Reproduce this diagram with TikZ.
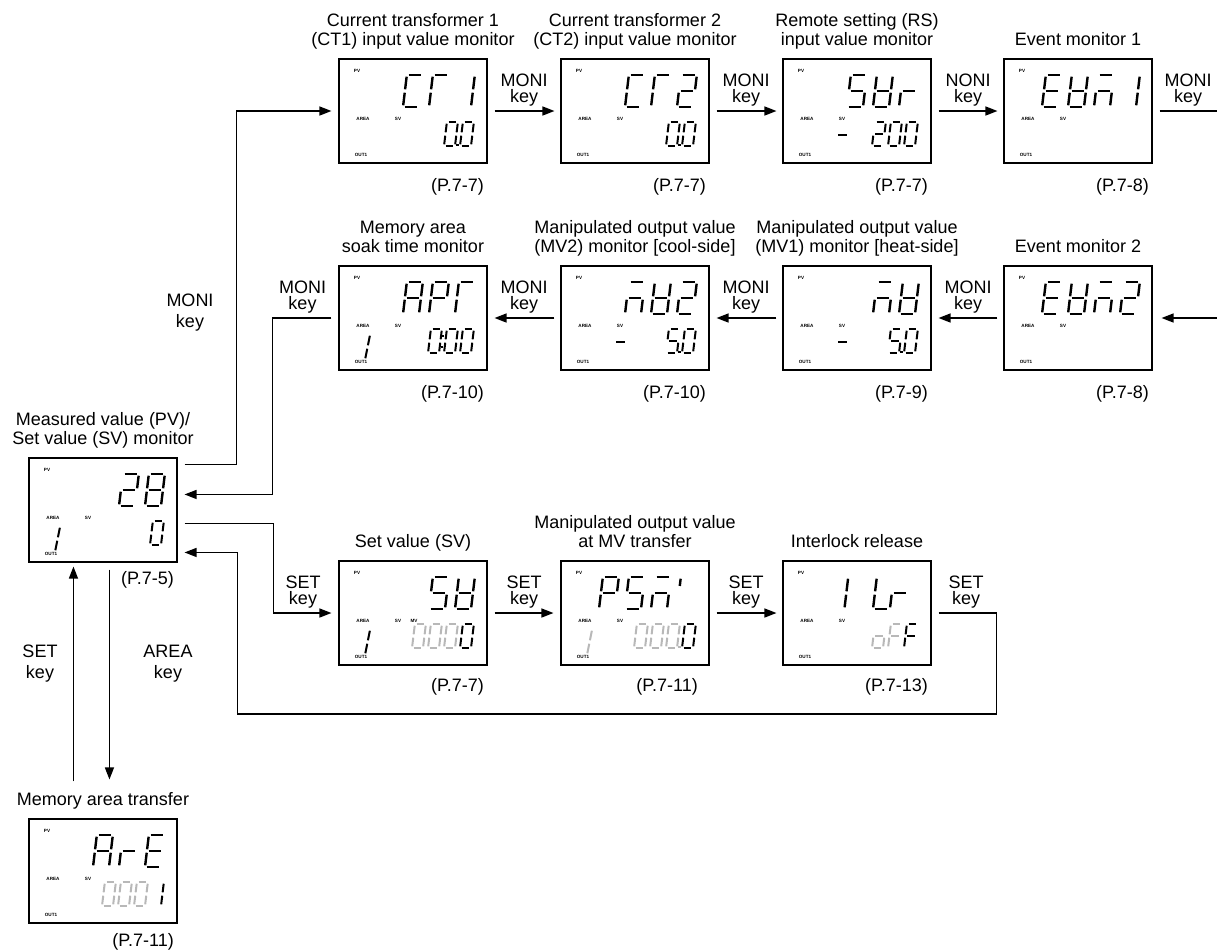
\documentclass[tikz,border=0pt]{standalone}
\usepackage{fontspec}
\setmainfont{Liberation Sans}
\usetikzlibrary{arrows.meta,calc}
\tikzset{
 lcd/.style={draw, line width=1.1pt, minimum width=148pt, minimum height=104pt, inner sep=0pt},
 arr/.style={line width=1.4pt, -{Triangle[length=12pt,width=9pt]}},
 ln/.style={line width=1.4pt},
 lbl/.style={font=\fontsize{18}{20}\selectfont, inner sep=0pt, anchor=base},
 ref/.style={font=\fontsize{18}{20}\selectfont, inner sep=0pt, anchor=base east},
 tinylbl/.style={font=\fontsize{4.6}{5}\selectfont\bfseries, inner sep=0pt},
}
\colorlet{dim}{black!28}
\def\slf{0.12}
% seven-segment drawing
\newcommand\sg[4]{%
 \pgfmathsetmacro\xa{\dgX+(#1)+\dgS*(1-(#2)/\dgH)}%
 \pgfmathsetmacro\ya{\dgY+(#2)}%
 \pgfmathsetmacro\xb{\dgX+(#3)+\dgS*(1-(#4)/\dgH)}%
 \pgfmathsetmacro\yb{\dgY+(#4)}%
 \draw[line width=\dgL pt, draw=\dgC] (\xa,\ya) -- (\xb,\yb);}
\newcommand\sdot[1]{%
 \pgfmathsetmacro\xa{\dgX+\dgW+2.2+\dgS*(1-(#1)/\dgH)}%
 \pgfmathsetmacro\ya{\dgY+(#1)}%
 \fill[\dgC] (\xa-1.2,\ya-1.2) rectangle (\xa+1.2,\ya+1.2);}
\pgfkeys{/seg/.is family,
 /seg/a/.code={\sg{\dgG}{0}{\dgW-\dgG}{0}},
 /seg/b/.code={\sg{\dgW}{\dgG}{\dgW}{\dgH/2-\dgG}},
 /seg/c/.code={\sg{\dgW}{\dgH/2+\dgG}{\dgW}{\dgH-\dgG}},
 /seg/d/.code={\sg{\dgG}{\dgH}{\dgW-\dgG}{\dgH}},
 /seg/e/.code={\sg{0}{\dgH/2+\dgG}{0}{\dgH-\dgG}},
 /seg/f/.code={\sg{0}{\dgG}{0}{\dgH/2-\dgG}},
 /seg/g/.code={\sg{\dgG}{\dgH/2}{\dgW-\dgG}{\dgH/2}},
 /seg/q/.code={\sg{0}{\dgG}{0}{\dgH*0.28}},
 /seg/p/.code={\sdot{\dgH-1.2}},
 /seg/k/.code={\sdot{\dgH*0.3}\sdot{\dgH*0.75}},
}
\newcommand\dg[7]{\def\dgX{#1}\def\dgY{#2}\def\dgW{#3}\def\dgH{#4}\def\dgC{#6}\def\dgL{#7}%
 \pgfmathsetmacro\dgS{\slf*#4}\def\dgG{1.7}\pgfkeys{/seg/.cd,#5}}
% upper digit: cx cy pos segs colour
\newcommand\up[5]{\dg{#1-74+38+26*#3}{#2-52+16}{16}{32}{#4}{#5}{2.4}}
% lower digit
\newcommand\lo[5]{\dg{#1-74+73+16*#3}{#2-52+63}{11}{24}{#4}{#5}{2.0}}
% area digit 1
\newcommand\ar[3]{\def\slf{0.2}\dg{#1-74+16}{#2-52+68}{10}{26}{b,c}{#3}{2.0}\def\slf{0.12}}
% minus sign
\newcommand\mn[2]{\dg{#1-74+52}{#2-52+64}{12}{24}{g}{black}{2.0}}
% lcd box
\newcommand\lcd[3]{%
 \node[lcd] (#1) at (#2,#3) {};
 \node[tinylbl] (#1pv) at ({#2-74+18},{#3-52+12}) {PV};
 \node[tinylbl] (#1area) at ({#2-74+24},{#3-52+60}) {AREA};
 \node[tinylbl] (#1sv) at ({#2-74+59},{#3-52+60}) {SV};
 \node[tinylbl] (#1out) at ({#2-74+22},{#3-52+96}) {OUT1};}
% key label: name x yarrow word
\newcommand\kl[4]{%
 \node[lbl] (#1a) at (#2,{#3-25}) {#4};
 \node[lbl] (#1b) at (#2,{#3-8.5}) {key};}
\begin{document}
\begin{tikzpicture}[x=1pt,y=-1pt]
\useasboundingbox (0,0) rectangle (1217,951);
% ---------- boxes ----------
\lcd{ct1}{413}{111}
\lcd{ct2}{635}{111}
\lcd{rs}{857}{111}
\lcd{evo}{1078}{111}
\lcd{apr}{413}{318}
\lcd{mvb}{635}{318}
\lcd{mva}{857}{318}
\lcd{evt}{1078}{318}
\lcd{pv}{103}{510}
\lcd{sv}{413}{613}
\lcd{psm}{635}{613}
\lcd{ilr}{857}{613}
\lcd{are}{103}{871}
\node[tinylbl] (svmv) at (414,621) {MV};
% ---------- digits ----------
% CT1
\up{413}{111}{1}{a,d,e,f}{black}\up{413}{111}{2}{a,e,f}{black}\up{413}{111}{3}{b,c}{black}
\lo{413}{111}{2}{a,b,c,d,e,f,p}{black}\lo{413}{111}{3}{a,b,c,d,e,f}{black}
% CT2
\up{635}{111}{1}{a,d,e,f}{black}\up{635}{111}{2}{a,e,f}{black}\up{635}{111}{3}{a,b,g,e,d}{black}
\lo{635}{111}{2}{a,b,c,d,e,f,p}{black}\lo{635}{111}{3}{a,b,c,d,e,f}{black}
% SUr
\up{857}{111}{1}{a,f,g,c,d}{black}\up{857}{111}{2}{b,c,d,e,f,g}{black}\up{857}{111}{3}{e,g}{black}
\mn{857}{111}\lo{857}{111}{1}{a,b,g,e,d}{black}\lo{857}{111}{2}{a,b,c,d,e,f}{black}\lo{857}{111}{3}{a,b,c,d,e,f}{black}
% EVm1
\up{1078}{111}{0}{a,d,e,f,g}{black}\up{1078}{111}{1}{b,c,d,e,f,g}{black}\up{1078}{111}{2}{a,c,e,g}{black}\up{1078}{111}{3}{b,c}{black}
% APr
\up{413}{318}{1}{a,b,c,e,f,g}{black}\up{413}{318}{2}{a,b,e,f,g}{black}\up{413}{318}{3}{a,e,f}{black}
\lo{413}{318}{1}{a,b,c,d,e,f,k}{black}\lo{413}{318}{2}{a,b,c,d,e,f}{black}\lo{413}{318}{3}{a,b,c,d,e,f}{black}
\ar{413}{318}{black}
% mV2
\up{635}{318}{1}{a,c,e,g}{black}\up{635}{318}{2}{b,c,d,e,f,g}{black}\up{635}{318}{3}{a,b,g,e,d}{black}
\mn{635}{318}\lo{635}{318}{2}{a,f,g,c,d,p}{black}\lo{635}{318}{3}{a,b,c,d,e,f}{black}
% mV
\up{857}{318}{2}{a,c,e,g}{black}\up{857}{318}{3}{b,c,d,e,f,g}{black}
\mn{857}{318}\lo{857}{318}{2}{a,f,g,c,d,p}{black}\lo{857}{318}{3}{a,b,c,d,e,f}{black}
% EVm2
\up{1078}{318}{0}{a,d,e,f,g}{black}\up{1078}{318}{1}{b,c,d,e,f,g}{black}\up{1078}{318}{2}{a,c,e,g}{black}\up{1078}{318}{3}{a,b,g,e,d}{black}
% PV/SV
\up{103}{510}{2}{a,b,g,e,d}{black}\up{103}{510}{3}{a,b,c,d,e,f,g}{black}
\lo{103}{510}{3}{a,b,c,d,e,f}{black}\ar{103}{510}{black}
% SV
\up{413}{613}{2}{a,f,g,c,d}{black}\up{413}{613}{3}{b,c,d,e,f,g}{black}
\lo{413}{613}{0}{a,b,c,d,e,f}{dim}\lo{413}{613}{1}{a,b,c,d,e,f}{dim}\lo{413}{613}{2}{a,b,c,d,e,f}{dim}\lo{413}{613}{3}{a,b,c,d,e,f}{black}
\ar{413}{613}{black}
% PSm'
\up{635}{613}{0}{a,b,e,f,g}{black}\up{635}{613}{1}{a,f,g,c,d}{black}\up{635}{613}{2}{a,c,e,g}{black}\up{635}{613}{3}{q}{black}
\lo{635}{613}{0}{a,b,c,d,e,f}{dim}\lo{635}{613}{1}{a,b,c,d,e,f}{dim}\lo{635}{613}{2}{a,b,c,d,e,f,p}{dim}\lo{635}{613}{3}{a,b,c,d,e,f}{black}
\ar{635}{613}{dim}
% ILr
\up{857}{613}{0.9}{e,f}{black}\up{857}{613}{2}{d,e,f}{black}\up{857}{613}{2.65}{e,g}{black}
\lo{857}{613}{1}{c,d,e,g}{dim}\lo{857}{613}{2}{a,e,f,g}{dim}\lo{857}{613}{3}{a,e,f,g}{black}
% ArE
\up{103}{871}{1}{a,b,c,e,f,g}{black}\up{103}{871}{2}{e,g}{black}\up{103}{871}{3}{a,d,e,f,g}{black}
\lo{103}{871}{0}{a,b,c,d,e,f}{dim}\lo{103}{871}{1}{a,b,c,d,e,f}{dim}\lo{103}{871}{2}{a,b,c,d,e,f}{dim}\lo{103}{871}{3}{b,c}{black}
% ---------- titles ----------
\node[lbl] (t1a) at (413,26) {Current transformer 1};
\node[lbl] (t1b) at (413,45.5) {(CT1) input value monitor};
\node[lbl] (t2a) at (635,26) {Current transformer 2};
\node[lbl] (t2b) at (635,45.5) {(CT2) input value monitor};
\node[lbl] (t3a) at (857,26) {Remote setting (RS)};
\node[lbl] (t3b) at (857,45.5) {input value monitor};
\node[lbl] (t4) at (1078,45.5) {Event monitor 1};
\node[lbl] (t5a) at (413,233) {Memory area};
\node[lbl] (t5b) at (413,252.5) {soak time monitor};
\node[lbl] (t6a) at (635,233) {Manipulated output value};
\node[lbl] (t6b) at (635,252.5) {(MV2) monitor [cool-side]};
\node[lbl] (t7a) at (857,233) {Manipulated output value};
\node[lbl] (t7b) at (857,252.5) {(MV1) monitor [heat-side]};
\node[lbl] (t8) at (1078,252.5) {Event monitor 2};
\node[lbl] (t9a) at (103,425) {Measured value (PV)/};
\node[lbl] (t9b) at (103,444.5) {Set value (SV) monitor};
\node[lbl] (t10) at (413,547.5) {Set value (SV)};
\node[lbl] (t11a) at (635,528) {Manipulated output value};
\node[lbl] (t11b) at (635,547.5) {at MV transfer};
\node[lbl] (t12) at (857,547.5) {Interlock release};
\node[lbl] (t13) at (103,805.5) {Memory area transfer};
% ---------- page references ----------
\node[ref] (r1) at (484,191.5) {(P.7-7)};
\node[ref] (r2) at (706,191.5) {(P.7-7)};
\node[ref] (r3) at (928,191.5) {(P.7-7)};
\node[ref] (r4) at (1149,191.5) {(P.7-8)};
\node[ref] (r5) at (484,398.5) {(P.7-10)};
\node[ref] (r6) at (706,398.5) {(P.7-10)};
\node[ref] (r7) at (928,398.5) {(P.7-9)};
\node[ref] (r8) at (1149,398.5) {(P.7-8)};
\node[ref] (r9) at (174,584) {(P.7-5)};
\node[ref] (r10) at (484,691) {(P.7-7)};
\node[ref] (r11) at (698,691) {(P.7-11)};
\node[ref] (r12) at (928,691) {(P.7-13)};
\node[ref] (r13) at (174,946) {(P.7-11)};
% ---------- key labels ----------
\kl{k1}{524}{111}{MONI}
\kl{k2}{746}{111}{MONI}
\kl{k3}{968}{111}{NONI}
\kl{k4}{1188}{111}{MONI}
\kl{k5}{524}{318}{MONI}
\kl{k6}{746}{318}{MONI}
\kl{k7}{968}{318}{MONI}
\kl{k8}{302.5}{318}{MONI}
\kl{k9}{303}{613}{SET}
\kl{k10}{524}{613}{SET}
\kl{k11}{746}{613}{SET}
\kl{k12}{966}{613}{SET}
\node[lbl] (k13a) at (190,306) {MONI};
\node[lbl] (k13b) at (190,327) {key};
\node[lbl] (k14a) at (40,657.5) {SET};
\node[lbl] (k14b) at (40,678) {key};
\node[lbl] (k15a) at (168,657.5) {AREA};
\node[lbl] (k15b) at (168,678) {key};
% ---------- connectors ----------
\draw[arr] ([xshift=7pt]ct1.east) -- ([xshift=-6pt]ct2.west);
\draw[arr] ([xshift=7pt]ct2.east) -- ([xshift=-6pt]rs.west);
\draw[arr] ([xshift=7pt]rs.east) -- ([xshift=-6pt]evo.west);
\coordinate (edge1) at (1217,111);
\coordinate (edge2) at (1217,318);
\draw[ln] ([xshift=7pt]evo.east) -- (edge1);
\draw[arr] (edge2) -- ([xshift=9pt]evt.east);
\draw[arr] ([xshift=-6pt]evt.west) -- ([xshift=7pt]mva.east);
\draw[arr] ([xshift=-6pt]mva.west) -- ([xshift=7pt]mvb.east);
\draw[arr] ([xshift=-6pt]mvb.west) -- ([xshift=7pt]apr.east);
\coordinate (pvo1) at ($(pv.north east)+(7,7)$);
\coordinate (pvi1) at ($(pv.north east)+(7,37)$);
\coordinate (pvo2) at ($(pv.north east)+(7,66)$);
\coordinate (pvi2) at ($(pv.north east)+(7,95)$);
\draw[arr] (pvo1) -| ($(ct1.west)+(-102,0)$) -- ([xshift=-7pt]ct1.west);
\draw[arr] ([xshift=-7pt]apr.west) -- ($(apr.west)+(-66,0)$) |- (pvi1);
\draw[arr] (pvo2) -| ($(sv.west)+(-65,0)$) -- ([xshift=-7pt]sv.west);
\draw[arr] ([xshift=7pt]sv.east) -- ([xshift=-7pt]psm.west);
\draw[arr] ([xshift=7pt]psm.east) -- ([xshift=-6pt]ilr.west);
\draw[arr] ([xshift=7pt]ilr.east) -| ($(ilr.east)+(65,101)$) -| ($(pvi2)+(53,0)$) -- (pvi2);
\coordinate (upin) at ($(pv.south west)+(45,4)$);
\coordinate (upout) at ($(are.north west)+(45,-37)$);
\coordinate (dnout) at ($(pv.south west)+(81,7)$);
\coordinate (dnin) at ($(are.north west)+(81,-39)$);
\draw[arr] (upout) -- (upin);
\draw[arr] (dnout) -- (dnin);
\end{tikzpicture}
\end{document}
